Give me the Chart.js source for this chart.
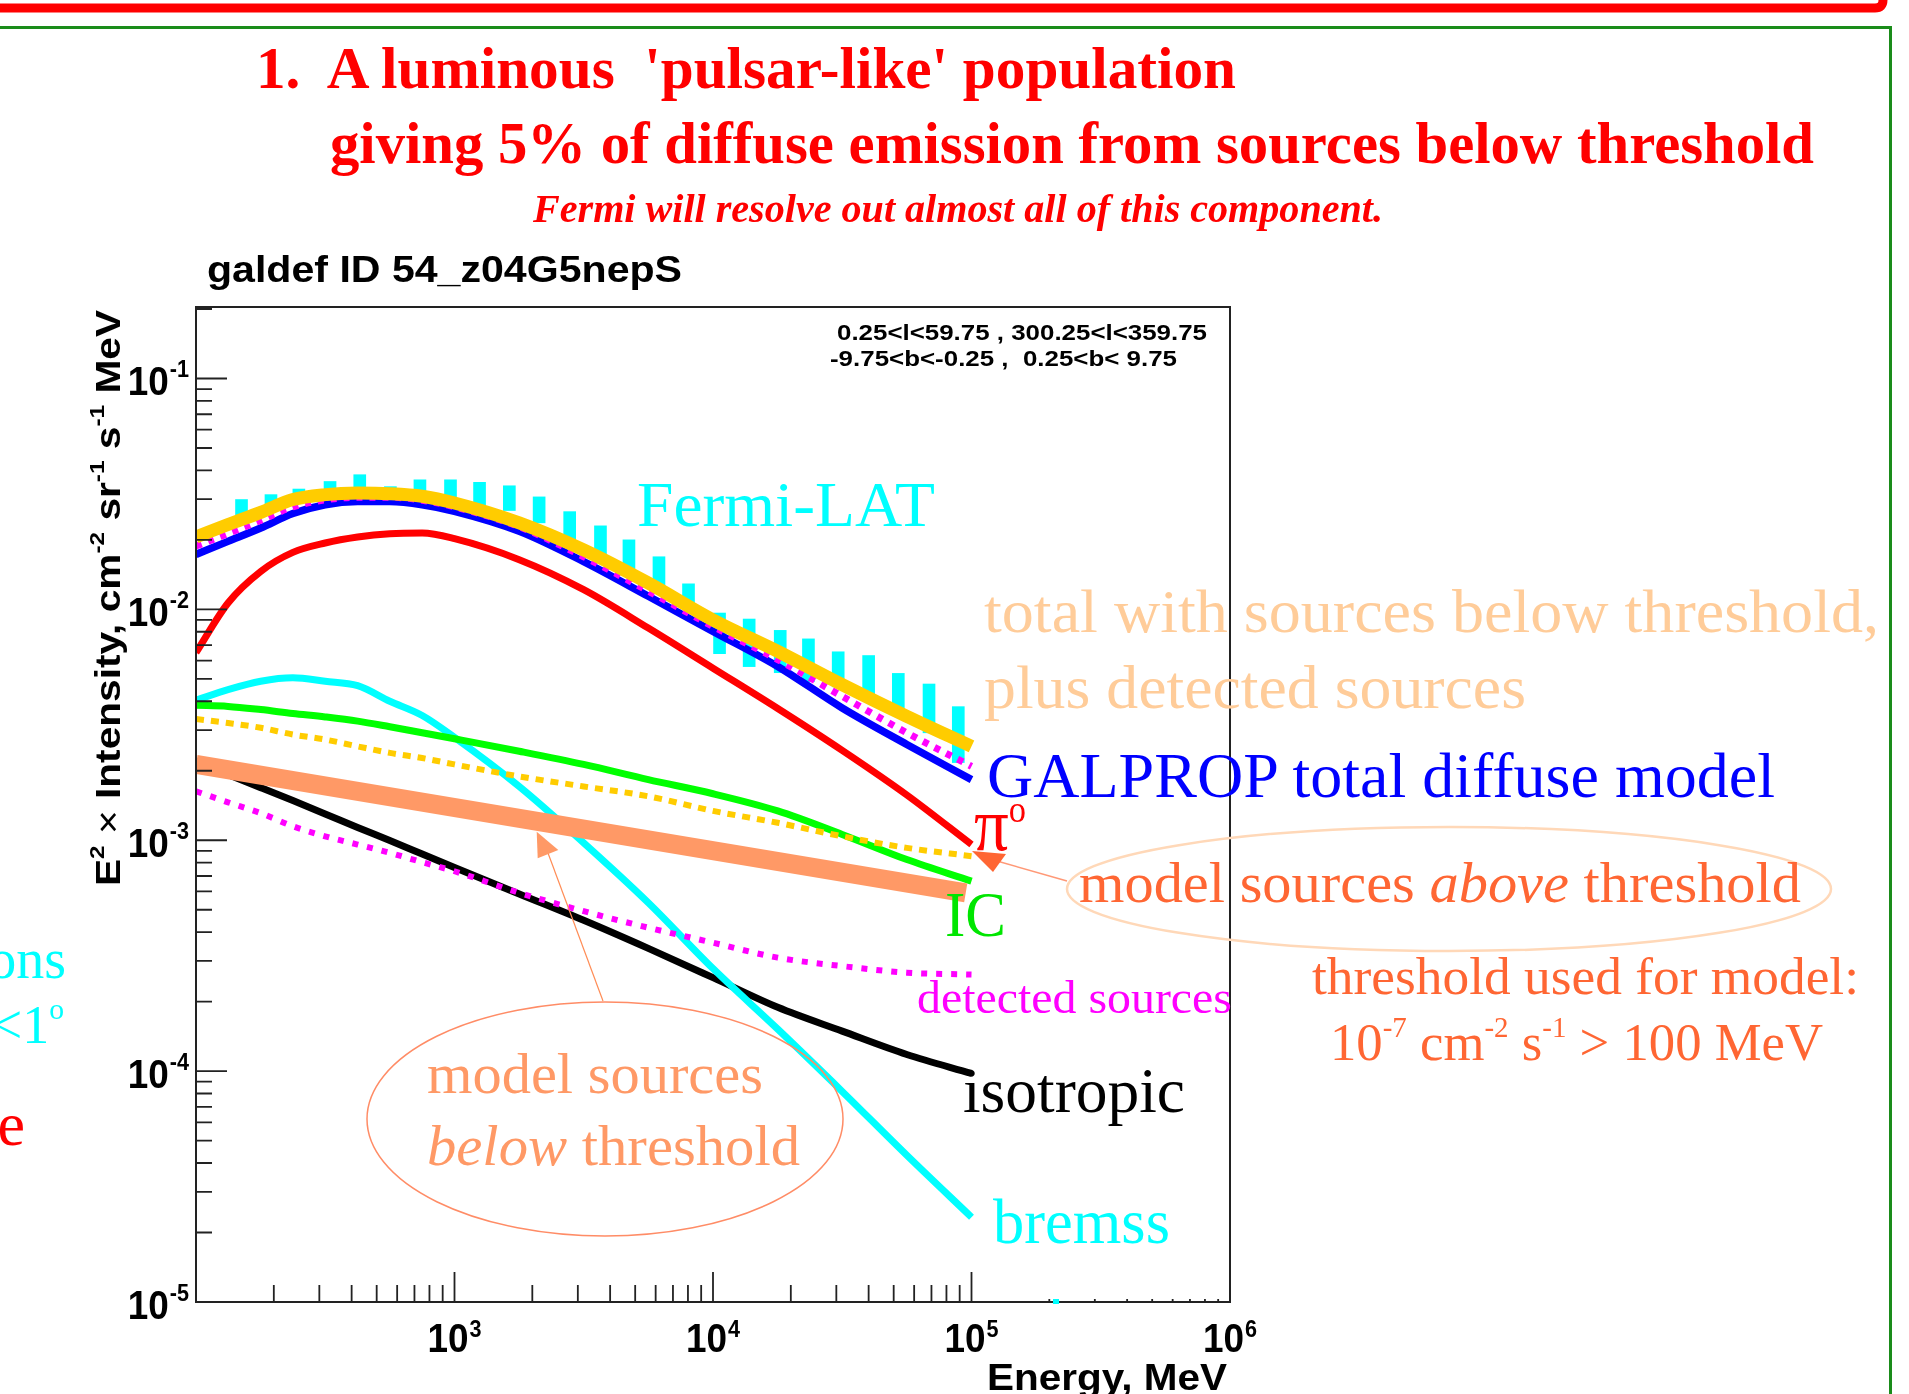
<!DOCTYPE html>
<html lang="en">
<head>
<meta charset="UTF-8">
<title>galdef ID 54_z04G5nepS</title>
<script src="https://cdn.jsdelivr.net/npm/chart.js"></script>
<style>
  body { margin: 0; background: #fff; overflow: hidden; }
  #page { position: relative; width: 1909px; height: 1394px; overflow: hidden; background: #fff; }
  #chart, #shapes { position: absolute; left: 0; top: 0; }
  .note { position: absolute; left: 0; top: 0; white-space: pre; }
  .note .sup { position: relative; top: -0.8em; font-size: 0.55em; }
  .mark { display: inline-block; width: 0; height: 0; vertical-align: baseline; }
</style>
</head>
<body>
<div id="page">
  <canvas id="chart" width="1909" height="1394"></canvas>
  <svg id="shapes" width="1909" height="1394">
    <path d="M0 8 H1875 Q1883 8 1883 0 V-6" stroke="#ff0000" stroke-width="9" fill="none"/>
    <polyline points="0,27.5 1890.5,27.5 1890.5,1394" stroke="#1a8c1a" stroke-width="3" fill="none"/>
    <ellipse cx="1449" cy="889" rx="382" ry="62" stroke="#ffd8b8" stroke-width="2.5" fill="none"/>
    <ellipse cx="605" cy="1119" rx="238" ry="117" stroke="#ff8c66" stroke-width="1.5" fill="none"/>
    <line x1="603" y1="1001" x2="548" y2="853" stroke="#ff8c55" stroke-width="1.2"/>
    <polygon points="536.7,831.7 537.7,858.3 558.3,850" fill="#ff9966"/>
    <line x1="1067" y1="881" x2="997" y2="861" stroke="#ff9977" stroke-width="1.5"/>
    <polygon points="972,851 1006,854 993,872" fill="#ff6633"/>
    <rect x="1053" y="1299" width="6" height="5" fill="#00ffff"/>
  </svg>
</div>
<script>
// energies (MeV) at which the model curves were read
const energy = [100, 133, 178, 237, 316, 422, 562, 750, 1000, 1780, 3160, 5620, 10000, 17800, 31600, 56200, 100000];

const totalWithSources = [0.0206, 0.0233, 0.0263, 0.0299, 0.0314, 0.0319, 0.0317, 0.0309, 0.0289, 0.0237, 0.0181, 0.0130, 0.0090, 0.00658, 0.00472, 0.00344, 0.00255];
const totalPlusDetected = [0.0188, 0.0213, 0.0243, 0.0278, 0.0298, 0.0306, 0.0306, 0.0297, 0.0278, 0.0228, 0.0169, 0.0120, 0.00844, 0.00606, 0.0042, 0.00292, 0.00209];
const galpropTotal = [0.0173, 0.0197, 0.0225, 0.0260, 0.0284, 0.0293, 0.0293, 0.0284, 0.0266, 0.0218, 0.0161, 0.0114, 0.00803, 0.00566, 0.00374, 0.0026, 0.00183];
const pionDecay = [0.0065, 0.01066, 0.0146, 0.01765, 0.01938, 0.02057, 0.02126, 0.02141, 0.02023, 0.01641, 0.01217, 0.0083, 0.00556, 0.00372, 0.00245, 0.00157, 0.000958];
const bremss = [0.00404, 0.00449, 0.00488, 0.00505, 0.00488, 0.00467, 0.0040, 0.00347, 0.00279, 0.00171, 0.000974, 0.000536, 0.000278, 0.000152, 0.0000817, 0.0000432, 0.0000233];
const inverseCompton = [0.00384, 0.0038, 0.00368, 0.00354, 0.00342, 0.00328, 0.0031, 0.00292, 0.00275, 0.00243, 0.00213, 0.00183, 0.00159, 0.00134, 0.00106, 0.000825, 0.000665];
const sourcesAbove = [0.00335, 0.00322, 0.00307, 0.00287, 0.00273, 0.00255, 0.00239, 0.00227, 0.00213, 0.00189, 0.00171, 0.00155, 0.00134, 0.00119, 0.00104, 0.000927, 0.000853];
const isotropic = [0.0022, 0.001925, 0.00169, 0.001485, 0.0013, 0.001135, 0.000997, 0.000871, 0.000762, 0.000585, 0.00045, 0.00034, 0.000254, 0.000189, 0.000149, 0.000118, 0.0000977];
const detectedSources = [0.00163, 0.00146, 0.00131, 0.00115, 0.00104, 0.000958, 0.000882, 0.000803, 0.000734, 0.000592, 0.000493, 0.000418, 0.00036, 0.00031, 0.000285, 0.000267, 0.000262];

// model sources below threshold (thick band)
const belowEnergy = [100, 95000];
const sourcesBelow = [0.00213, 0.000592];

// Fermi-LAT data bars
const fermiEnergy = [150, 195, 250, 330, 430, 565, 735, 965, 1250, 1630, 2125, 2790, 3670, 4730, 6180, 8040, 10600, 13800, 18200, 23400, 30500, 40000, 52100, 68500, 88900];
const fermiLow = [0.0257, 0.0275, 0.0305, 0.0320, 0.0330, 0.0324, 0.0320, 0.0305, 0.0284, 0.0268, 0.0237, 0.0200, 0.0171, 0.0141, 0.0118, 0.0101, 0.00643, 0.00565, 0.00532, 0.00486, 0.00462, 0.00406, 0.00357, 0.00292, 0.00217];
const fermiHigh = [0.0299, 0.0314, 0.0332, 0.0358, 0.0383, 0.0340, 0.0364, 0.0364, 0.0355, 0.0343, 0.0307, 0.0265, 0.0230, 0.0200, 0.0169, 0.0129, 0.00964, 0.00908, 0.00811, 0.00745, 0.00655, 0.00631, 0.00528, 0.00475, 0.00379];

// tick labels
const xTickValues = [1e3, 1e4, 1e5, 1e6];
const xTickPowers = ['3', '4', '5', '6'];
const yTickValues = [1e-5, 1e-4, 1e-3, 1e-2, 1e-1];
const yTickPowers = ['-5', '-4', '-3', '-2', '-1'];

const SANS = '"Liberation Sans", Arial, sans-serif';
const SERIF = '"Liberation Serif", "Times New Roman", serif';

function pts(xs, ys) {
    return xs.map((x, i) => ({ x: x, y: ys[i] }));
}

function curve(label, ys, color, width, order, dash) {
    return {
        label: label,
        data: pts(energy, ys),
        borderColor: color,
        borderWidth: width,
        borderDash: dash || [],
        pointRadius: 0,
        fill: false,
        cubicInterpolationMode: 'monotone',
        order: order
    };
}

// "10" with a raised exponent, digits a little condensed like ROOT's Helvetica
function drawPower(ctx, px, base, exp, align, rise) {
    const sx = 0.9;
    ctx.font = 'bold 41px ' + SANS;
    const w1 = ctx.measureText('10').width * sx;
    ctx.font = 'bold 24px ' + SANS;
    const w2 = ctx.measureText(exp).width * sx;
    const total = w1 + 1 + w2;
    const x0 = align === 'center' ? px - total / 2 : px - total;
    ctx.save();
    ctx.translate(x0, base);
    ctx.scale(sx, 1);
    ctx.font = 'bold 41px ' + SANS;
    ctx.fillText('10', 0, 0);
    ctx.font = 'bold 24px ' + SANS;
    ctx.fillText(exp, (w1 + 1) / sx, -rise);
    ctx.restore();
}

// rich text: [text, isSuperscript, weight]
function richRun(ctx, parts, size, draw) {
    let cx = 0;
    parts.forEach(p => {
        const s = p[1] ? size * 0.6 : size;
        ctx.font = (p[2] || 'bold') + ' ' + s + 'px ' + SANS;
        if (draw) ctx.fillText(p[0], cx, p[1] ? -size * 0.45 : 0);
        cx += ctx.measureText(p[0]).width;
    });
    return cx;
}

const yTitle = [['E', false], ['2', true], [' \u00d7 ', false, 'normal'], ['Intensity, cm', false], ['-2', true],
    [' sr', false], ['-1', true], [' s', false], ['-1', true], [' MeV', false]];

const rootFrame = {
    id: 'rootFrame',
    afterDatasetsDraw(chart) {
        const { ctx, chartArea: a, scales: { x, y } } = chart;
        ctx.save();
        ctx.strokeStyle = '#222';
        ctx.lineWidth = 2;
        ctx.strokeRect(a.left, a.top, a.right - a.left, a.bottom - a.top);

        ctx.lineWidth = 1.8;
        ctx.beginPath();
        for (let d = 2; d <= 5; d++) {
            for (let m = 1; m <= 9; m++) {
                if (d === 2 && m === 1) continue;
                const px = x.getPixelForValue(m * Math.pow(10, d));
                let len = m === 1 ? 30 : 17;
                if (d === 5 && m > 1) len = 3;
                ctx.moveTo(px, a.bottom);
                ctx.lineTo(px, a.bottom - len);
            }
        }
        const p6 = x.getPixelForValue(1e6);
        ctx.moveTo(p6, a.bottom);
        ctx.lineTo(p6, a.bottom - 15);
        for (let d = -5; d <= -1; d++) {
            for (let m = 1; m <= 9; m++) {
                const v = m * Math.pow(10, d);
                if (v > y.max) continue;
                const py = y.getPixelForValue(v);
                ctx.moveTo(a.left, py);
                ctx.lineTo(a.left + (m === 1 ? 31 : 16), py);
            }
        }
        ctx.stroke();

        ctx.fillStyle = '#000';
        ctx.textAlign = 'left';
        ctx.textBaseline = 'alphabetic';
        xTickValues.forEach((v, i) => drawPower(ctx, x.getPixelForValue(v), 1352, xTickPowers[i], 'center', 15));
        yTickValues.forEach((v, i) => drawPower(ctx, 189, y.getPixelForValue(v) + 17, yTickPowers[i], 'right', 18));

        // x title
        ctx.font = 'bold 37px ' + SANS;
        const xt = 'Energy, MeV';
        const xw = ctx.measureText(xt).width;
        ctx.save();
        ctx.translate(1227 - 240, 1390);
        ctx.scale(240 / xw, 1);
        ctx.fillText(xt, 0, 0);
        ctx.restore();

        // y title, rotated
        const yw = richRun(ctx, yTitle, 35, false);
        ctx.save();
        ctx.translate(120, 886);
        ctx.rotate(-Math.PI / 2);
        ctx.scale(576 / yw, 1);
        richRun(ctx, yTitle, 35, true);
        ctx.restore();

        ctx.restore();
    }
};

new Chart(document.getElementById('chart'), {
    type: 'line',
    data: {
        datasets: [
            {
                label: 'model sources below threshold',
                data: pts(belowEnergy, sourcesBelow),
                borderColor: '#ff9966',
                borderWidth: 19,
                borderCapStyle: 'butt',
                pointRadius: 0,
                fill: false,
                order: 0
            },
            curve('total with sources below threshold', totalWithSources, '#ffcc00', 13, 1),
            curve('total plus detected sources', totalPlusDetected, '#ff00ff', 7, 2, [6, 7]),
            curve('GALPROP total diffuse model', galpropTotal, '#0000ff', 7.5, 3),
            curve('pi0', pionDecay, '#ff0000', 7, 4),
            curve('detected sources', detectedSources, '#ff00ff', 6, 5, [6, 9]),
            curve('model sources above threshold', sourcesAbove, '#ffcc00', 6, 6, [8, 7]),
            curve('IC', inverseCompton, '#00ff00', 7, 7),
            curve('bremss', bremss, '#00ffff', 7, 8),
            curve('isotropic', isotropic, '#000000', 7, 9),
            {
                type: 'bar',
                label: 'Fermi-LAT',
                data: fermiEnergy.map((e, i) => ({ x: e, y: [fermiLow[i], fermiHigh[i]] })),
                backgroundColor: '#00ffff',
                borderWidth: 0,
                barThickness: 12,
                order: 20
            }
        ]
    },
    options: {
        responsive: false,
        animation: false,
        events: [],
        layout: { padding: { left: 196, top: 307, right: 679, bottom: 92 } },
        scales: {
            x: { type: 'logarithmic', min: 100, max: 1e6, display: false, offset: false },
            y: { type: 'logarithmic', min: 1e-5, max: 0.204, display: false }
        },
        plugins: {
            legend: { display: false },
            tooltip: { enabled: false }
        }
    },
    plugins: [rootFrame]
});

// slide text around the plot
const notes = [
    { html: "1.  A luminous  'pulsar-like' population", x: 256, y: 88, w: 980, font: 'bold 59px ' + SERIF, color: '#ff0000' },
    { html: 'giving 5% of diffuse emission from sources below threshold', x: 330, y: 163, w: 1484, font: 'bold 59px ' + SERIF, color: '#ff0000' },
    { html: 'Fermi will resolve out almost all of this component.', x: 533, y: 222, w: 850, font: 'italic bold 40px ' + SERIF, color: '#ff0000' },
    { html: 'galdef ID 54_z04G5nepS', x: 207, y: 282, w: 475, font: 'bold 36px ' + SANS, color: '#000' },
    { html: '0.25&lt;l&lt;59.75 , 300.25&lt;l&lt;359.75', x: 837, y: 340, w: 370, font: 'bold 22px ' + SANS, color: '#000' },
    { html: '-9.75&lt;b&lt;-0.25 ,  0.25&lt;b&lt; 9.75', x: 830, y: 366, w: 347, font: 'bold 22px ' + SANS, color: '#000' },
    { html: 'Fermi-LAT', x: 637, y: 526, w: 298, font: '63px ' + SERIF, color: '#00ffff' },
    { html: 'total with sources below threshold,', x: 984, y: 632, w: 895, font: '62px ' + SERIF, color: '#ffcc99' },
    { html: 'plus detected sources', x: 984, y: 708, w: 542, font: '62px ' + SERIF, color: '#ffcc99' },
    { html: 'GALPROP total diffuse model', x: 987, y: 797, w: 788, font: '63px ' + SERIF, color: '#0000ff' },
    { html: '\u03c0<span style="position:relative;top:-0.75em;font-size:0.5em">o</span>', x: 974, y: 850, w: 52, font: '76px ' + SERIF, color: '#ff0000' },
    { html: 'model sources <i>above</i> threshold', x: 1079, y: 902, w: 722, font: '58px ' + SERIF, color: '#ff6633' },
    { html: 'IC', x: 945, y: 936, w: 61, font: '64px ' + SERIF, color: '#00e600' },
    { html: 'detected sources', x: 917, y: 1013, w: 315, font: '46px ' + SERIF, color: '#ff00ff' },
    { html: 'threshold used for model:', x: 1312, y: 994, w: 547, font: '52px ' + SERIF, color: '#ff6633' },
    { html: '10<span class="sup">-7</span> cm<span class="sup">-2</span> s<span class="sup">-1</span> &gt; 100 MeV', x: 1330, y: 1060, w: 493, font: '52px ' + SERIF, color: '#ff6633' },
    { html: 'isotropic', x: 963, y: 1112, w: 222, font: '63px ' + SERIF, color: '#000' },
    { html: 'bremss', x: 993, y: 1243, w: 177, font: '63px ' + SERIF, color: '#00ffff' },
    { html: 'model sources', x: 427, y: 1093, w: 336, font: '57px ' + SERIF, color: '#ff9966' },
    { html: '<i>below</i> threshold', x: 427, y: 1165, w: 373, font: '57px ' + SERIF, color: '#ff9966' },
    { html: 'ons', x: 66, y: 978, right: true, font: '56px ' + SERIF, color: '#00ffff' },
    { html: '&lt;1<span class="sup">o</span>', x: 64, y: 1043, right: true, font: '54px ' + SERIF, color: '#00ffff' },
    { html: 'e', x: 25, y: 1145, right: true, font: '62px ' + SERIF, color: '#ff0000' }
];

const page = document.getElementById('page');
notes.forEach(n => {
    const d = document.createElement('div');
    d.className = 'note';
    d.innerHTML = n.html;
    d.style.font = n.font;
    d.style.color = n.color;
    const mark = document.createElement('span');
    mark.className = 'mark';
    d.appendChild(mark);
    page.appendChild(d);
    const box = d.getBoundingClientRect();
    const base = mark.getBoundingClientRect().top - box.top;
    const width = n.w || box.width;
    d.style.left = (n.right ? n.x - width : n.x) + 'px';
    d.style.top = (n.y - base) + 'px';
    if (n.w) {
        d.style.transformOrigin = '0 0';
        d.style.transform = 'scaleX(' + (n.w / box.width) + ')';
    }
});
</script>
</body>
</html>
